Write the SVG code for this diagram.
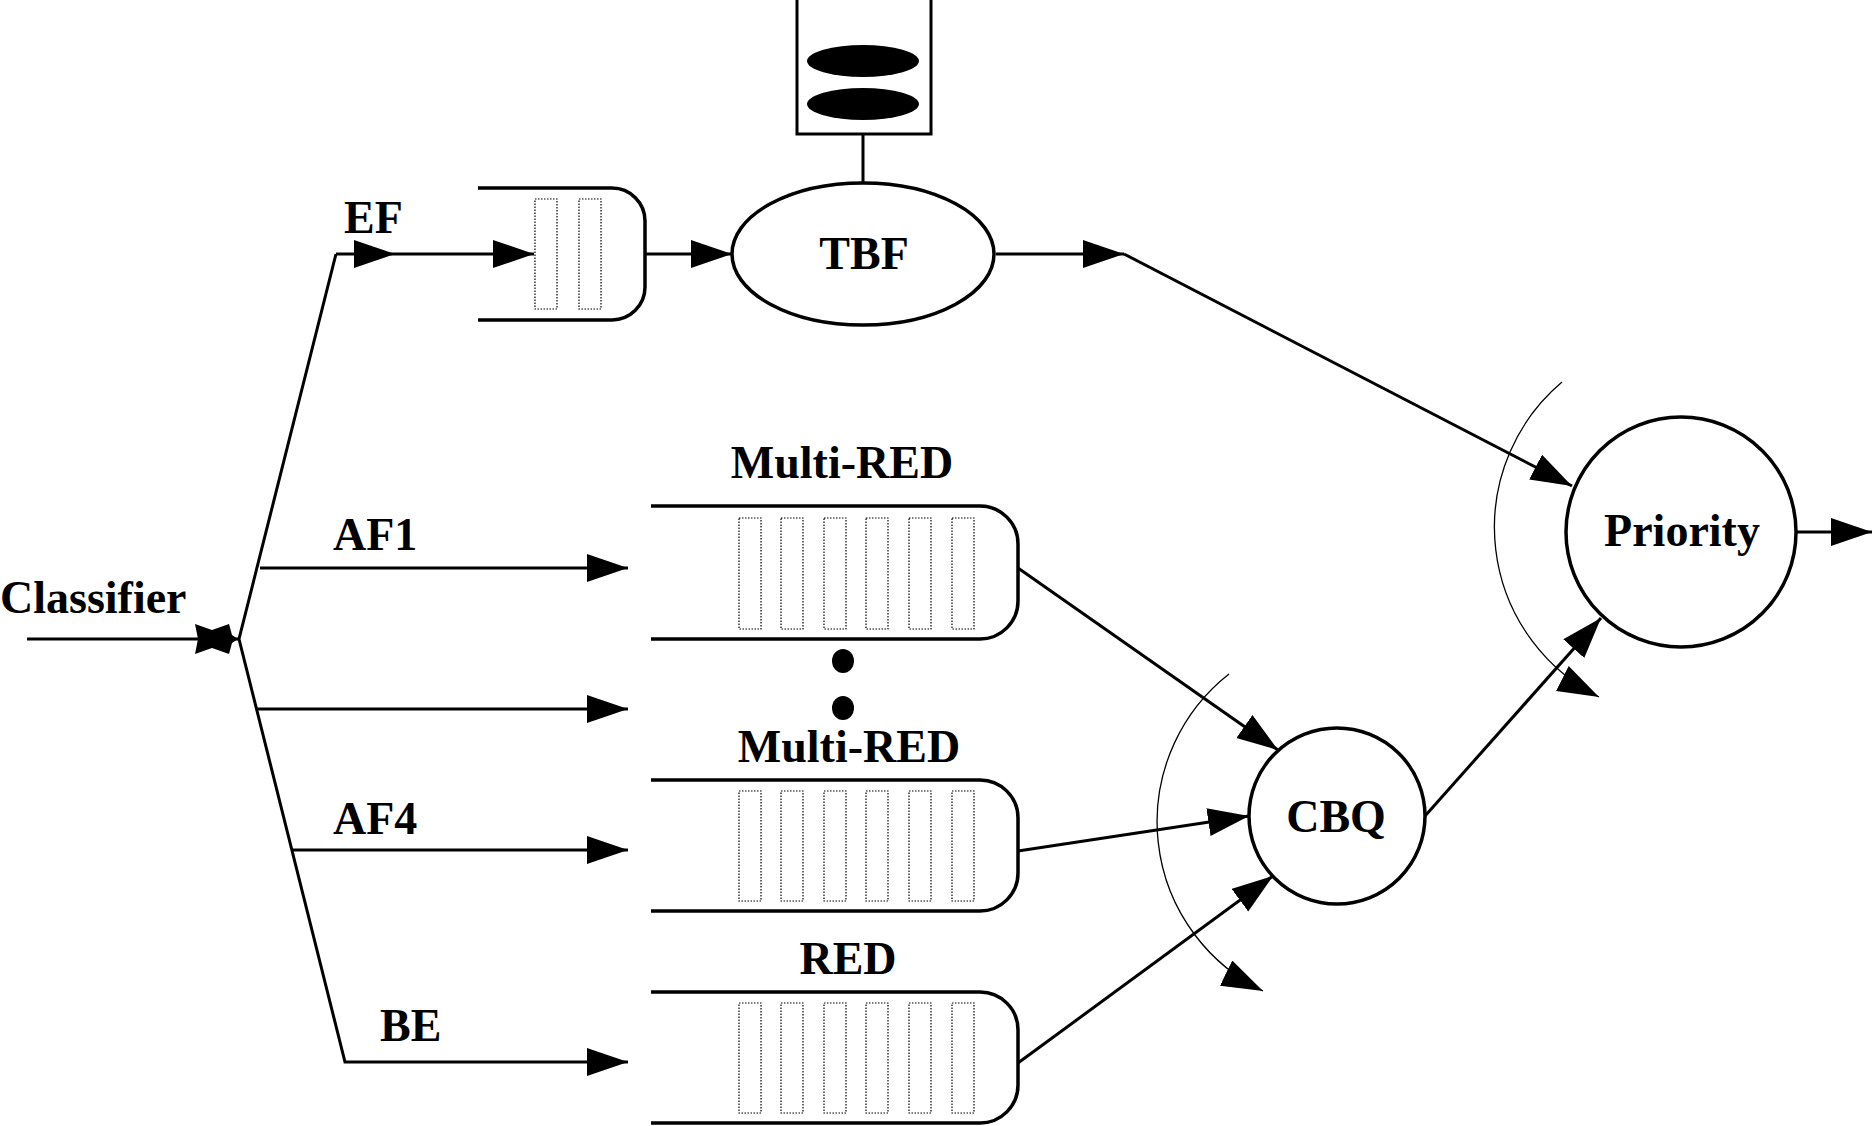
<svg xmlns="http://www.w3.org/2000/svg" width="1874" height="1126" viewBox="0 0 1874 1126">
<style>
  .lbl { font-family: "Liberation Serif", "Times New Roman", serif; font-weight: bold; font-size: 46px; fill: #000; }
  .mid { text-anchor: middle; }
  .edge { fill: none; stroke: #000; stroke-width: 3; marker-end: url(#ah); }
  .thin { fill: none; stroke: #000; stroke-width: 1.3; marker-end: url(#ah); }
  .shape { fill: #fff; stroke: #000; stroke-width: 3.5; }
  .queue { fill: none; stroke: #000; stroke-width: 3.5; }
  .bar { fill: none; stroke: #000; stroke-width: 1.2; stroke-dasharray: 1.5 1.5; }
</style>
<defs>
  <marker id="ah" markerUnits="userSpaceOnUse" markerWidth="42" markerHeight="30" refX="41" refY="14" orient="auto" viewBox="0 0 42 30">
    <path d="M0,0 L41,14 L0,28 Z" fill="#000"/>
  </marker>
</defs>
<rect width="1874" height="1126" fill="#fff"/>

<g id="connectors">
  <line x1="27" y1="639" x2="239" y2="639" stroke="#000" stroke-width="3"/>
  <path class="edge" d="M336,254 L239,639 L345,1062 L628,1062"/>
  <path class="edge" d="M336,254 L395,254"/>
  <path class="edge" d="M395,254 L534,254"/>
  <path class="edge" d="M645,254 L732,254"/>
  <path class="edge" d="M260,568 L628,568"/>
  <path class="edge" d="M257,709 L628,709"/>
  <path class="edge" d="M293,850 L628,850"/>
  <line x1="863" y1="134" x2="863" y2="183" stroke="#000" stroke-width="3"/>
  <path class="edge" d="M996,254 L1124,254"/>
  <path class="edge" d="M1124,254 L1572,486"/>
  <path class="edge" d="M1018,568 L1278,750"/>
  <path class="edge" d="M1018,851 L1249,816"/>
  <path class="edge" d="M1018,1063 L1273,876"/>
  <path class="edge" d="M1425,816 L1601,618"/>
  <path class="edge" d="M1796,532 L1872,532"/>
  <path class="thin" d="M1229,674 A188,188 0 0 0 1263,991"/>
  <path class="thin" d="M1562,382 A190,190 0 0 0 1599,697"/>
</g>

<g id="classifier">
  <polygon points="195,624 212,630 229,624 232,635 238,639 232,643 229,654 212,648 195,654 198,639" fill="#000"/>
  <text class="lbl" x="0" y="613">Classifier</text>
</g>

<g id="labels">
  <text class="lbl" x="344" y="233">EF</text>
  <text class="lbl" x="333" y="550">AF1</text>
  <text class="lbl" x="333" y="834">AF4</text>
  <text class="lbl" x="380" y="1041">BE</text>
</g>

<g id="token-bucket">
  <rect x="797" y="-5" width="134" height="139" fill="#fff" stroke="#000" stroke-width="3"/>
  <ellipse cx="863" cy="61" rx="56" ry="16" fill="#000"/>
  <ellipse cx="863" cy="104" rx="56" ry="16" fill="#000"/>
</g>

<g id="ef-queue">
  <path class="queue" d="M478,188 H612 A33,33 0 0 1 645,221 V287 A33,33 0 0 1 612,320 H478"/>
  <rect class="bar" x="535" y="199" width="22" height="110"/>
  <rect class="bar" x="579" y="199" width="22" height="110"/>
</g>

<g id="tbf">
  <ellipse class="shape" cx="863" cy="254" rx="131" ry="71"/>
  <text class="lbl mid" x="864" y="269">TBF</text>
</g>

<g id="multi-red-1">
  <text class="lbl mid" x="842" y="478">Multi-RED</text>
  <path class="queue" d="M651,506 H980 A38,38 0 0 1 1018,544 V601 A38,38 0 0 1 980,639 H651"/>
  <rect class="bar" x="739" y="518" width="22" height="111"/>
  <rect class="bar" x="781" y="518" width="22" height="111"/>
  <rect class="bar" x="824" y="518" width="22" height="111"/>
  <rect class="bar" x="866" y="518" width="22" height="111"/>
  <rect class="bar" x="909" y="518" width="22" height="111"/>
  <rect class="bar" x="952" y="518" width="22" height="111"/>
</g>

<g id="ellipsis">
  <ellipse cx="843" cy="661" rx="11" ry="12" fill="#000"/>
  <ellipse cx="843" cy="708" rx="11" ry="12" fill="#000"/>
</g>

<g id="multi-red-2">
  <text class="lbl mid" x="849" y="762">Multi-RED</text>
  <path class="queue" d="M651,780 H980 A38,38 0 0 1 1018,818 V873 A38,38 0 0 1 980,911 H651"/>
  <rect class="bar" x="739" y="791" width="22" height="110"/>
  <rect class="bar" x="781" y="791" width="22" height="110"/>
  <rect class="bar" x="824" y="791" width="22" height="110"/>
  <rect class="bar" x="866" y="791" width="22" height="110"/>
  <rect class="bar" x="909" y="791" width="22" height="110"/>
  <rect class="bar" x="952" y="791" width="22" height="110"/>
</g>

<g id="red">
  <text class="lbl mid" x="848" y="974">RED</text>
  <path class="queue" d="M651,992 H980 A38,38 0 0 1 1018,1030 V1085 A38,38 0 0 1 980,1123 H651"/>
  <rect class="bar" x="739" y="1003" width="22" height="110"/>
  <rect class="bar" x="781" y="1003" width="22" height="110"/>
  <rect class="bar" x="824" y="1003" width="22" height="110"/>
  <rect class="bar" x="866" y="1003" width="22" height="110"/>
  <rect class="bar" x="909" y="1003" width="22" height="110"/>
  <rect class="bar" x="952" y="1003" width="22" height="110"/>
</g>

<g id="cbq">
  <circle class="shape" cx="1337" cy="816" r="88" fill="none" style="fill:none"/>
  <text class="lbl mid" x="1336" y="832">CBQ</text>
</g>

<g id="priority">
  <circle class="shape" cx="1681" cy="532" r="115" style="fill:none"/>
  <text class="lbl mid" x="1682" y="546">Priority</text>
</g>
</svg>
